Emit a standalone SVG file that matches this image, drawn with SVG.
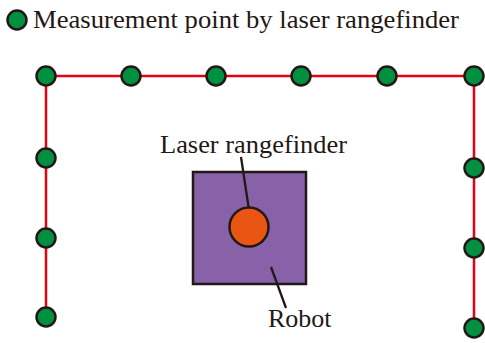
<svg xmlns="http://www.w3.org/2000/svg" width="485" height="343" viewBox="0 0 485 343">
<style>
.pt{fill:#009140;stroke:#231815;stroke-width:2.5}
.wall{fill:none;stroke:#e60012;stroke-width:2.5}
.lead{fill:none;stroke:#231815;stroke-width:2.3}
text{font-family:"Liberation Serif","Times New Roman",serif;fill:#231815;font-size:26px}
</style>
<rect width="485" height="343" fill="#fff"/>
<g id="legend">
<circle class="pt" cx="17" cy="20" r="9.5"/>
<text x="33" y="28" textLength="426" lengthAdjust="spacingAndGlyphs">Measurement point by laser rangefinder</text>
</g>
<g id="robot">
<rect x="193" y="172" width="113" height="112" fill="#8862a8" stroke="#231815" stroke-width="2.5"/>
<text x="268" y="327">Robot</text>
</g>
<g id="connectors">
<polyline class="wall" points="46,317 46,76 474,76 474,328"/>
<line class="lead" x1="241" y1="157" x2="249" y2="210"/>
<line class="lead" x1="271" y1="267" x2="286" y2="308"/>
</g>
<g id="rangefinder">
<circle cx="249" cy="227" r="19.5" fill="#e95513" stroke="#231815" stroke-width="2.5"/>
<text x="160" y="153" textLength="187" lengthAdjust="spacingAndGlyphs">Laser rangefinder</text>
</g>
<g id="points">
<circle id="p1" class="pt" cx="46" cy="76" r="9.5"/>
<circle id="p2" class="pt" cx="131" cy="76" r="9.5"/>
<circle id="p3" class="pt" cx="216" cy="76" r="9.5"/>
<circle id="p4" class="pt" cx="301" cy="76" r="9.5"/>
<circle id="p5" class="pt" cx="387" cy="76" r="9.5"/>
<circle id="p6" class="pt" cx="474" cy="76" r="9.5"/>
<circle id="p7" class="pt" cx="46" cy="158" r="9.5"/>
<circle id="p8" class="pt" cx="46" cy="238" r="9.5"/>
<circle id="p9" class="pt" cx="46" cy="317" r="9.5"/>
<circle id="p10" class="pt" cx="474" cy="168" r="9.5"/>
<circle id="p11" class="pt" cx="474" cy="248" r="9.5"/>
<circle id="p12" class="pt" cx="474" cy="328" r="9.5"/>
</g>
</svg>
